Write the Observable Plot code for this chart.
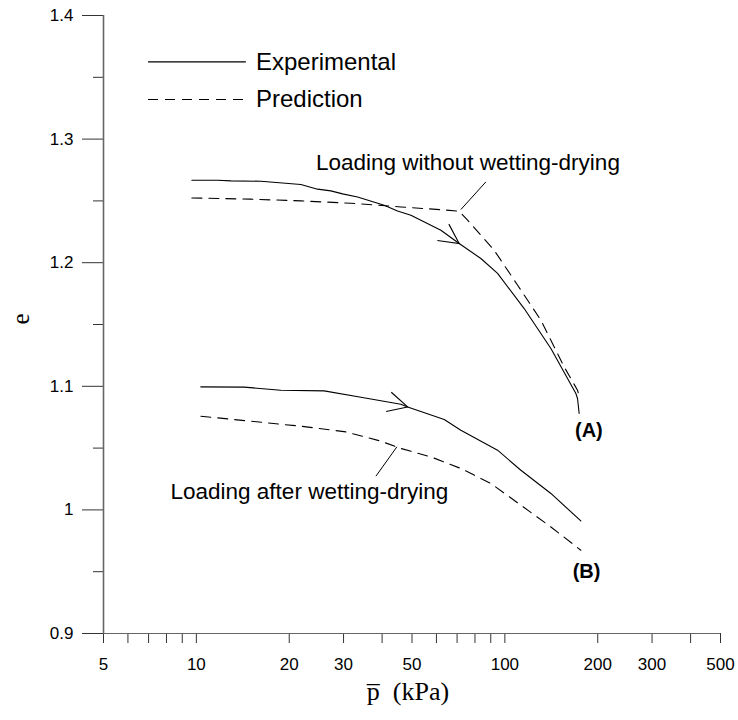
<!DOCTYPE html>
<html><head><meta charset="utf-8">
<script src="https://cdn.jsdelivr.net/npm/d3@7"></script>
<script src="https://cdn.jsdelivr.net/npm/@observablehq/plot@0.6"></script>
<style>body{margin:0;background:#fff}</style>
</head><body><div id="chart"></div>
<script>
// ---- data ----
const expA_p  = [9.67, 11.72, 12.94, 16.18, 21.82, 24.71, 27.29, 29.78, 33.31, 40.62, 44.89, 49.59, 62.02, 71.1, 83.6, 94.7, 115.5, 141.0, 169.9, 172.0, 174.1];
const expA_e  = [1.2667, 1.2667, 1.2662, 1.2659, 1.2633, 1.2595, 1.2581, 1.2557, 1.2532, 1.2465, 1.2419, 1.2384, 1.2263, 1.2155, 1.2034, 1.1913, 1.1629, 1.1306, 1.0942, 1.0901, 1.0780];
const predA_p = [9.67, 15.02, 21.82, 31.68, 46.0, 62.0, 71.1, 75.7, 92.3, 110.0, 130.8, 155.7, 172.0, 173.8];
const predA_e = [1.2524, 1.2514, 1.2500, 1.2481, 1.2451, 1.2429, 1.2417, 1.2344, 1.2101, 1.1818, 1.1535, 1.1157, 1.0968, 1.0928];
const expB_p  = [10.34, 14.29, 18.79, 25.96, 34.15, 46.0, 48.4, 63.6, 72.0, 94.7, 112.7, 141.0, 176.3];
const expB_e  = [1.0995, 1.0993, 1.0968, 1.0963, 1.0912, 1.0855, 1.0833, 1.0731, 1.0645, 1.0483, 1.0321, 1.0133, 0.9911];
const predB_p = [10.34, 14.66, 21.82, 30.52, 39.63, 46.0, 57.56, 72.0, 90.1, 112.7, 141.0, 176.3];
const predB_e = [1.0758, 1.0720, 1.0677, 1.0631, 1.0556, 1.0497, 1.0429, 1.0335, 1.0214, 1.0038, 0.9862, 0.9674];

const xMajorTicks = [5, 10, 20, 30, 50, 100, 200, 300, 500];
const xMinorTicks = [6, 7, 8, 9, 40, 60, 70, 80, 90, 400];
const yMajorTicks = [0.9, 1.0, 1.1, 1.2, 1.3, 1.4];
const yMinorTicks = [0.95, 1.05, 1.15, 1.25, 1.35];

const arrowTips   = [{p: 71.1, e: 1.2155}, {p: 48.4, e: 1.0833}];
const arrowAngles = [35, 15];

const leaderLines = [
  {p1: 86.8, e1: 1.2654, p2: 72.0, e2: 1.2430},
  {p1: 44.66, e1: 1.0510, p2: 38.2, e2: 1.0273}
];
const annotations = [
  {p: 75.9, e: 1.2805, text: "Loading without wetting-drying"},
  {p: 23.24, e: 1.0143, text: "Loading after wetting-drying"}
];
const curveLabels = [
  {p: 187.2, e: 1.0645, text: "(A)"},
  {p: 184.0, e: 0.9504, text: "(B)"}
];
const legendItems = [
  {label: "Experimental", p1: 6.97, p2: 14.47, pText: 15.6, e: 1.3625, dashed: false},
  {label: "Prediction",   p1: 6.97, p2: 14.2,  pText: 15.6, e: 1.3320, dashed: true}
];
const xLabel = "p\u0305  (kPa)";
const yLabel = "e";

// ---- build rows ----
const zip = (ps, es) => ps.map((p, i) => ({p, e: es[i]}));
const expA = zip(expA_p, expA_e), predA = zip(predA_p, predA_e);
const expB = zip(expB_p, expB_e), predB = zip(predB_p, predB_e);
const tips = arrowTips.map((d, i) => ({...d, angle: arrowAngles[i]}));

const sans = "'Liberation Sans', Arial, sans-serif";
const serif = "'Liberation Serif', 'Times New Roman', serif";
const DASH = "10,7";

const arrowHead = {
  draw(ctx) {
    const L = 22, a = 27 * Math.PI / 180;
    ctx.moveTo(-L * Math.cos(a), -L * Math.sin(a));
    ctx.lineTo(0, 0);
    ctx.lineTo(-L * Math.cos(a), L * Math.sin(a));
  }
};

const chart = Plot.plot({
  width: 738,
  height: 720,
  marginLeft: 103,
  marginRight: 18,
  marginTop: 15,
  marginBottom: 87,
  style: {fontFamily: sans, background: "#fff", color: "#000"},
  x: {type: "log", domain: [5, 500]},
  y: {domain: [0.9, 1.4]},
  marks: [
    // axes
    Plot.axisX({ticks: [...xMajorTicks, ...xMinorTicks], tickSize: 10, tickPadding: 14,
      tickFormat: d => xMajorTicks.includes(d) ? String(d) : "", fontSize: 17, label: null, stroke: "#333"}),
    Plot.axisY({ticks: yMajorTicks, tickSize: 21, tickPadding: 9,
      tickFormat: d => String(+d.toFixed(2)), fontSize: 17, label: null, stroke: "#333"}),
    Plot.axisY({ticks: yMinorTicks, tickSize: 10, tickFormat: () => "", label: null, stroke: "#333"}),
    Plot.ruleX([5], {stroke: "#666", strokeWidth: 1.6}),
    Plot.ruleY([0.9], {stroke: "#666", strokeWidth: 1.2}),
    // curves
    Plot.line(expA, {x: "p", y: "e", stroke: "#000", strokeWidth: 1.1}),
    Plot.line(predA, {x: "p", y: "e", stroke: "#000", strokeWidth: 1.1, strokeDasharray: DASH}),
    Plot.line(expB, {x: "p", y: "e", stroke: "#000", strokeWidth: 1.1}),
    Plot.line(predB, {x: "p", y: "e", stroke: "#000", strokeWidth: 1.1, strokeDasharray: DASH}),
    // arrowheads on experimental curves
    Plot.dot(tips, {x: "p", y: "e", symbol: arrowHead, rotate: "angle", fill: "none", stroke: "#000", strokeWidth: 1.1}),
    // leader lines and annotations
    Plot.link(leaderLines, {x1: "p1", y1: "e1", x2: "p2", y2: "e2", stroke: "#000", strokeWidth: 1}),
    Plot.text(annotations, {x: "p", y: "e", text: "text", fontSize: 22.5, fontFamily: sans, fill: "#000"}),
    Plot.text(curveLabels, {x: "p", y: "e", text: "text", fontSize: 20, fontWeight: "bold", fontFamily: sans, fill: "#000"}),
    // legend
    Plot.link(legendItems.filter(d => !d.dashed), {x1: "p1", x2: "p2", y1: "e", y2: "e", stroke: "#000", strokeWidth: 1.1}),
    Plot.link(legendItems.filter(d => d.dashed), {x1: "p1", x2: "p2", y1: "e", y2: "e", stroke: "#000", strokeWidth: 1.1, strokeDasharray: DASH}),
    Plot.text(legendItems, {x: "pText", y: "e", text: "label", textAnchor: "start", fontSize: 24, fontFamily: sans, fill: "#000"}),
    // axis titles
    Plot.text([xLabel], {frameAnchor: "bottom", dy: 66, dx: -4, fontSize: 26, fontFamily: serif, fill: "#000"}),
    Plot.text([yLabel], {frameAnchor: "left", dx: -83, rotate: -90, fontSize: 25, fontFamily: serif, fill: "#000"})
  ]
});
document.getElementById("chart").appendChild(chart);
</script>
</body></html>
